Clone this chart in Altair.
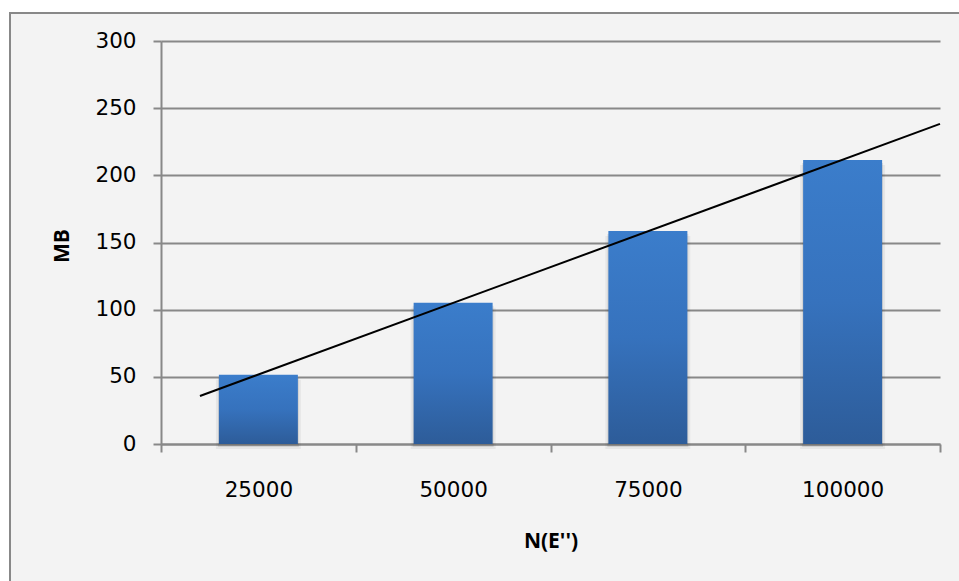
import altair as alt
import pandas as pd

# ---- data ----
categories = ["25000", "50000", "75000", "100000"]
mb_values = [51.5, 105.2, 158.6, 211.4]
y_ticks = [0, 50, 100, 150, 200, 250, 300]
trend_extent = [0.7, 4.5]
x_title = "N(E'')"
y_title = "MB"

df = pd.DataFrame({
    "idx": list(range(1, len(categories) + 1)),
    "category": categories,
    "mb": mb_values,
})
deco = pd.DataFrame({"d": [0]})

label_array = "[" + ",".join(f"'{c}'" for c in categories) + "]"
x_tick_values = [i / 2 for i in range(1, 2 * len(categories) + 2)]

GRID = "#888888"
LABEL_FONT = "DejaVu Sans"
TITLE_FONT = "Open Sans"

x_enc = alt.X(
    "idx:Q",
    scale=alt.Scale(domain=[0.5, len(categories) + 0.5], nice=False, zero=False, padding=0),
    axis=alt.Axis(
        values=x_tick_values,
        labelExpr=f"datum.value % 1 === 0 ? {label_array}[datum.value - 1] : ''",
        tickOpacity={"condition": {"test": "datum.value % 1 === 0", "value": 0}, "value": 1},
        grid=False,
        title=x_title,
        labelOverlap=False,
        labelFlush=False,
        labelFont=LABEL_FONT,
        labelFontSize=21.5,
        labelColor="black",
        labelPadding=27,
        tickSize=8,
        tickWidth=2,
        tickColor=GRID,
        domainColor=GRID,
        domainWidth=2,
        titleFont=TITLE_FONT,
        titleFontSize=21,
        titleFontWeight="bold",
        titleColor="black",
        titleY=97.5,
        titleBaseline="middle",
    ),
)

y_enc = alt.Y(
    "mb:Q",
    scale=alt.Scale(domain=[0, 300], nice=False),
    axis=alt.Axis(
        values=y_ticks,
        grid=True,
        gridColor=GRID,
        gridWidth=2,
        title=y_title,
        labelFont=LABEL_FONT,
        labelFontSize=21.5,
        labelColor="black",
        labelPadding=17,
        tickSize=8,
        tickWidth=2,
        tickColor=GRID,
        domainColor=GRID,
        domainWidth=2,
        titleFont=TITLE_FONT,
        titleFontSize=21,
        titleFontWeight="bold",
        titleColor="black",
        titleX=-98.5,
        titleY=204.5,
        titleAngle=-90,
        titleBaseline="middle",
        titleAlign="center",
    ),
)

# ---- decoration: white page margin and frame line ----
left_strip = alt.Chart(deco).mark_rect(color="white").encode(
    x=alt.value(-161), x2=alt.value(-152), y=alt.value(-41), y2=alt.value(560)
)
top_strip = alt.Chart(deco).mark_rect(color="white").encode(
    x=alt.value(-161), x2=alt.value(820), y=alt.value(-41), y2=alt.value(-29)
)
left_line = alt.Chart(deco).mark_rule(color=GRID, strokeWidth=2).encode(
    x=alt.value(-151), y=alt.value(-29), y2=alt.value(560)
)
top_line = alt.Chart(deco).mark_rule(color=GRID, strokeWidth=2).encode(
    y=alt.value(-28), x=alt.value(-152), x2=alt.value(820)
)

# ---- bars with soft shadow ----
shadow1 = alt.Chart(df).mark_bar(width=85, color="black", opacity=0.05, yOffset=5).encode(
    x=x_enc, y=y_enc
)
shadow2 = alt.Chart(df).mark_bar(width=81, color="black", opacity=0.09, yOffset=3).encode(
    x=x_enc, y=y_enc
)
bars = alt.Chart(df).mark_bar(
    width=79,
    color=alt.Gradient(
        gradient="linear",
        stops=[
            alt.GradientStop(color="#3b7dcb", offset=0),
            alt.GradientStop(color="#3672bd", offset=0.5),
            alt.GradientStop(color="#2d5c99", offset=1),
        ],
        x1=0, x2=0, y1=0, y2=1,
    ),
).encode(x=x_enc, y=y_enc)

trend = alt.Chart(df).transform_regression(
    "idx", "mb", extent=trend_extent
).mark_line(color="black", strokeWidth=2).encode(x=x_enc, y=y_enc)

chart = alt.layer(
    left_strip, top_strip, left_line, top_line, shadow1, shadow2, bars, trend
).properties(
    width=779,
    height=403,
    padding={"left": 161, "top": 41, "right": 19, "bottom": 137},
    autosize=alt.AutoSizeParams(type="none"),
    background="#f3f3f3",
).configure_view(strokeWidth=0)

chart.save("out.html", embed_options={"renderer": "svg", "actions": False})
